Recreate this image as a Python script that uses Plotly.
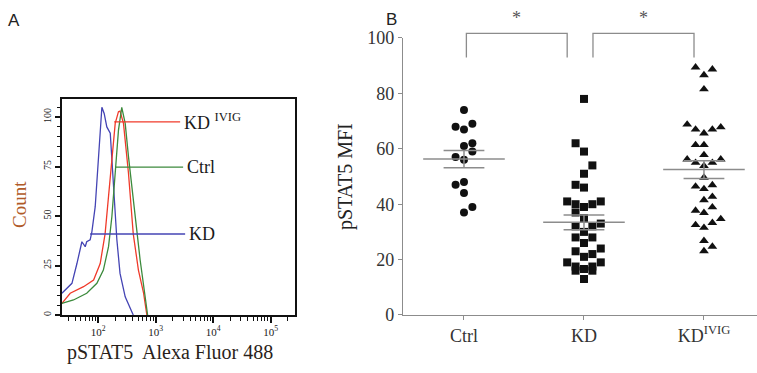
import numpy as np
import plotly.graph_objects as go

# ---------------- Panel A: flow histograms (log10 intensity, % of max) ----------------
kd_log = [1.368, 1.543, 1.63, 1.687, 1.716, 1.774, 1.80, 1.86, 1.89, 1.948, 2.005, 2.064,
          2.104, 2.15, 2.21, 2.238, 2.296, 2.325, 2.38, 2.47, 2.61]
kd_cnt = [11, 16, 26, 34.5, 37, 34.5, 37, 38, 42, 54.7, 80, 104.9,
          101.8, 95, 91.8, 78, 54.7, 38, 21, 9.2, 0]
ivig_log = [1.368, 1.513, 1.745, 1.92, 2.035, 2.12, 2.18, 2.24, 2.296, 2.353, 2.38, 2.44,
            2.527, 2.61, 2.70, 2.79, 2.847]
ivig_cnt = [5.9, 11, 14.3, 17.7, 26, 41, 60, 80, 96.8, 102.7, 103, 96.8,
            71.6, 41, 22.7, 11, 0]
ctrl_log = [1.368, 1.57, 1.80, 1.977, 2.09, 2.18, 2.238, 2.296, 2.353, 2.41, 2.47, 2.527,
            2.643, 2.73, 2.817, 2.86]
ctrl_cnt = [5.9, 7.6, 11, 16, 22.7, 34.5, 49.6, 71.6, 93.4, 104.9, 96.8, 80,
            49.6, 27.8, 9.2, 0]

hist_names = ["KD <sup>IVIG</sup>", "Ctrl", "KD"]
label_y = [97.5, 74.7, 40.9]            # level of each label leader line
label_x0 = [2.278, 2.296, 1.86]         # log10 start of leader line
label_x1 = [3.426, 3.478, 3.513]        # log10 end of leader line
hist_colors = ["#f03a2a", "#3c8a3c", "#4444b4"]

a_major = [2, 3, 4, 5]
a_yticks = [0, 25, 50, 75, 100]

# ---------------- Panel B: pSTAT5 MFI dot plot ----------------
groups = ["Ctrl", "KD", "KD<sup>IVIG</sup>"]
ctrl_vals = [74, 68, 67, 69, 61, 62, 57, 56, 59, 47, 48, 44, 37, 39]
ctrl_slot = [0, -1, 0, 1, 0, 1, -1, 0, 1, -1, 0, 0, 0, 1]
kd_vals = [78, 62, 59, 54, 51, 47, 46, 41, 40, 39, 40, 41, 37, 35, 32, 32, 33, 30, 28, 28,
           26, 23, 22, 24, 21, 19, 17.5, 16, 16.6, 17.5, 16, 19, 13]
kd_slot = [0, -1, 0, 1, 0, -1, 0, -2, -1, 0, 1, 2, -1, 0, -1, 1, 2, 0, -1, 1,
           0, -1, 1, 2, 0, -2, -1, -1, 0, 1, 1, 2, 0]
kdivig_vals = [89.4, 88.7, 86.6, 81.5, 68.8, 67, 65.6, 67, 67.8, 61.4, 61.4, 57.8, 56.2, 55,
               53.8, 55, 56.2, 49.6, 46.4, 45.5, 46.9, 41.5, 42.7, 37.7, 36.9, 38.9, 32.5,
               31.5, 33.3, 34.7, 26.8, 24.7, 23.1]
kdivig_slot = [-1, 1, 0, 0, -2, -1, 0, 1, 2, -1, 0, 0, -2, -1, 0, 1, 2, 0, -1, 0, 1, 0, 1,
               -1, 0, 1, -1, 0, 1, 2, 0, 1, 0]
b_yticks = [0, 20, 40, 60, 80, 100]
sig_pairs = [(0, 1), (1, 2)]
sig_labels = ["*", "*"]

serif = "Liberation Serif, Times New Roman, serif"
sans = "Liberation Sans, Arial, sans-serif"

# ---------------- figure ----------------
fig = go.Figure()

for lx, cy, col in [(kd_log, kd_cnt, hist_colors[2]), (ivig_log, ivig_cnt, hist_colors[0]),
                    (ctrl_log, ctrl_cnt, hist_colors[1])]:
    fig.add_trace(go.Scatter(x=[10 ** v for v in lx], y=cy, mode="lines",
                             line=dict(color=col, width=1.3), xaxis="x", yaxis="y",
                             showlegend=False, hoverinfo="skip"))

for name, y, x0, x1, col in zip(hist_names, label_y, label_x0, label_x1, hist_colors):
    fig.add_trace(go.Scatter(x=[10 ** x0, 10 ** x1], y=[y, y], mode="lines",
                             line=dict(color=col, width=1.3), xaxis="x", yaxis="y",
                             showlegend=False, hoverinfo="skip"))
    fig.add_annotation(x=x1 + 0.04, y=y, xref="x", yref="y", text=name, showarrow=False,
                       xanchor="left", yanchor="middle",
                       font=dict(family=serif, size=18, color="#1a1a1a"))

# Panel B points
sym = ["circle", "square", "triangle-up"]
slot_w = 0.07
all_vals = [ctrl_vals, kd_vals, kdivig_vals]
all_slots = [ctrl_slot, kd_slot, kdivig_slot]
for i, (vals, slots) in enumerate(zip(all_vals, all_slots)):
    xs = [i + s * slot_w for s in slots]
    fig.add_trace(go.Scatter(x=xs, y=vals, mode="markers", xaxis="x2", yaxis="y2",
                             marker=dict(symbol=sym[i], size=8 if i < 2 else 8.5, color="#111111",
                                         line=dict(width=0)),
                             showlegend=False, hoverinfo="skip"))
    arr = np.array(vals, dtype=float)
    m = arr.mean()
    sem = arr.std(ddof=1) / np.sqrt(len(arr))
    gray = dict(color="#8c8c8c", width=1.5)
    fig.add_trace(go.Scatter(x=[i - 0.34, i + 0.34], y=[m, m], mode="lines", line=gray,
                             xaxis="x2", yaxis="y2", showlegend=False, hoverinfo="skip"))
    for yy in (m - sem, m + sem):
        fig.add_trace(go.Scatter(x=[i - 0.17, i + 0.17], y=[yy, yy], mode="lines", line=gray,
                                 xaxis="x2", yaxis="y2", showlegend=False, hoverinfo="skip"))
    fig.add_trace(go.Scatter(x=[i, i], y=[m - sem, m + sem], mode="lines", line=gray,
                             xaxis="x2", yaxis="y2", showlegend=False, hoverinfo="skip"))

b_top = 100.0
for (a, b), lab in zip(sig_pairs, sig_labels):
    if a == 0:
        xa, xb = a + 0.02, b - 0.14
    else:
        xa, xb = a + 0.075, b - 0.083
    fig.add_shape(type="path", xref="x2", yref="y2 domain",
                  path=f"M {xa},{93 / b_top} L {xa},{101.7 / b_top} L {xb},{101.7 / b_top} L {xb},{93 / b_top}",
                  line=dict(color="#8c8c8c", width=1.3))
    fig.add_annotation(x=(xa + xb) / 2, y=1.072, xref="x2", yref="y2 domain", text=lab,
                       showarrow=False, xanchor="center", yanchor="middle",
                       font=dict(family=serif, size=18, color="#555"))

fig.update_layout(
    width=757, height=373, margin=dict(l=0, r=0, t=0, b=58, pad=0, autoexpand=False),
    paper_bgcolor="white", plot_bgcolor="white",
    xaxis=dict(type="log", domain=[0.0819, 0.3893], range=[1.37, 5.42], automargin=False,
               tickvals=[10 ** k for k in a_major],
               ticktext=[f"10<sup>{k}</sup>" for k in a_major],
               ticks="outside", ticklen=6, tickwidth=1.5, tickcolor="#111",
               minor=dict(tickvals=[m * 10 ** k for k in range(1, 6) for m in range(2, 10)
                                    if 1.37 < np.log10(m * 10 ** k) < 5.42],
                          ticks="outside", ticklen=4, tickwidth=1.3, tickcolor="#111"),
               showline=True, linecolor="#111", linewidth=1.8, mirror=True,
               showgrid=False, zeroline=False, anchor="y",
               tickfont=dict(family=serif, size=11, color="#222")),
    yaxis=dict(domain=[0, 0.6857], range=[0, 109.1], tickvals=a_yticks, automargin=False,
               ticks="outside", ticklen=5, tickwidth=1.5, tickcolor="#111", tickangle=-90,
               minor=dict(dtick=5, ticks="outside", ticklen=3, tickwidth=1.2, tickcolor="#111"),
               showline=True, linecolor="#111", linewidth=1.8, mirror=True,
               showgrid=False, zeroline=False, anchor="x",
               tickfont=dict(family=serif, size=10, color="#222")),
    xaxis2=dict(domain=[0.5324, 1.0], range=[-0.508, 2.442], tickvals=[0, 1, 2], automargin=False,
                ticktext=groups, ticks="outside", ticklen=4, tickcolor="#8c8c8c",
                showline=True, linecolor="#8c8c8c", linewidth=1.3,
                showgrid=False, zeroline=False, anchor="y2",
                tickfont=dict(family=serif, size=18, color="#333")),
    yaxis2=dict(domain=[0, 0.8794], range=[0, b_top], tickvals=b_yticks, automargin=False,
                ticks="outside", ticklen=4, tickcolor="#8c8c8c",
                showline=True, linecolor="#8c8c8c", linewidth=1.3,
                showgrid=False, zeroline=False, anchor="x2",
                tickfont=dict(family=serif, size=18, color="#333")),
)

def paper_note(text, px, py, font, angle=0):
    fig.add_annotation(text=text, x=px / 757, y=(315 - py) / 315, xref="paper", yref="paper",
                       showarrow=False, xanchor="center", yanchor="middle", textangle=angle,
                       font=font)

paper_note("A", 14, 20, dict(family=sans, size=17, color="#222"))
paper_note("B", 391, 19, dict(family=sans, size=17, color="#222"))
paper_note("Count", 19, 205, dict(family=serif, size=19, color="#b05a28"), -90)
paper_note("pSTAT5  Alexa Fluor 488", 170, 352, dict(family=serif, size=20, color="#2a1f1a"))
paper_note("pSTAT5 MFI", 345, 177, dict(family=serif, size=20, color="#222"), -90)

fig.write_html("out.html")
